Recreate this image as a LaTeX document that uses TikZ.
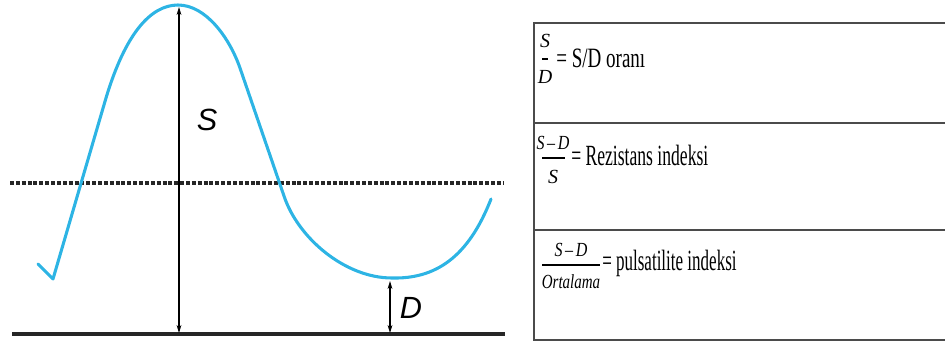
\documentclass[tikz,border=0pt]{standalone}
\usepackage{fontspec}
\usepackage{graphicx}
\setmainfont{Liberation Serif}
\setsansfont{Liberation Sans}
\usetikzlibrary{arrows.meta}
\definecolor{wave}{RGB}{45,180,228}
\definecolor{tabrule}{RGB}{75,75,75}
\tikzset{
  wavecurve/.style={draw=wave, line width=2.3pt, line join=round, line cap=round},
  dimarrow/.style={draw=black, line width=0.9pt, {Stealth[length=6pt,width=3.6pt]}-{Stealth[length=6pt,width=3.6pt]}},
  baseline rule/.style={draw=black!85, line width=3pt},
  dotline/.style={draw=black!85, line width=2.4pt, dash pattern=on 3pt off 1.4pt},
  graphlabel/.style={inner sep=0pt, font=\sffamily\itshape\fontsize{23}{27}\selectfont},
  tabline/.style={draw=tabrule, line width=1.5pt},
  fracpart/.style={inner sep=0pt, font=\itshape\fontsize{15}{18}\selectfont},
  fracbar/.style={draw=black, line width=1pt},
  rowtext/.style={inner sep=0pt, anchor=base west}
}
\begin{document}
\begin{tikzpicture}[x=0.75pt, y=-0.75pt]
\useasboundingbox (0,0) rectangle (945,343);
% ---------- graph ----------
\coordinate (bl) at (12,334);
\coordinate (br) at (505,334);
\draw[baseline rule] (bl) -- (br);
\coordinate (dl) at (10,183);
\coordinate (dr) at (503,183);
\draw[dotline] (dl) -- (dr);
\coordinate (stop) at (179,7);
\coordinate (sbot) at (179,333);
\draw[dimarrow] (stop) -- (sbot);
\coordinate (dtop) at (390,281);
\coordinate (dbot) at (390,333);
\draw[dimarrow] (dtop) -- (dbot);
\node[graphlabel] (Slab) at (207,120) {S};
\node[graphlabel] (Dlab) at (411,308) {D};
\draw[wavecurve] (38,264) -- (53,279) -- (106,98)
  .. controls (125,35) and (150,5) .. (178,5)
  .. controls (206,5) and (229.5,38) .. (240,68)
  -- (284,196)
  .. controls (298,238) and (345,278) .. (392,278)
  .. controls (435,279) and (468,258) .. (491,199);
% ---------- table ----------
\coordinate (t1l) at (534,23);
\coordinate (t1r) at (945,23);
\coordinate (t2l) at (534,123);
\coordinate (t2r) at (945,123);
\coordinate (t3l) at (534,230);
\coordinate (t3r) at (945,230);
\coordinate (t4l) at (534,340);
\coordinate (t4r) at (945,340);
\draw[tabline] (t1r) -- (t1l) -- (t4l) -- (t4r);
\draw[tabline] (t2l) -- (t2r);
\draw[tabline] (t3l) -- (t3r);
% row 1
\node[fracpart] (n1) at (545,41) {S};
\node[fracpart] (d1) at (545,77) {D};
\coordinate (b1l) at (542,59);
\coordinate (b1r) at (548,59);
\draw[fracbar] (b1l) -- (b1r);
\node[rowtext, font=\fontsize{21}{25}\selectfont] (r1) at (556,67) {\scalebox{0.68}[1]{= S/D oranı}};
% row 2
\node[fracpart] (n2) at (553,143) {\scalebox{0.8}[1]{S\,–\,D}};
\node[fracpart] (d2) at (553,177) {S};
\coordinate (b2l) at (542,158);
\coordinate (b2r) at (565,158);
\draw[fracbar] (b2l) -- (b2r);
\node[rowtext, font=\fontsize{22}{26}\selectfont] (r2) at (571,165) {\scalebox{0.60}[1]{= Rezistans indeksi}};
% row 3
\node[fracpart] (n3) at (571,250) {\scalebox{0.8}[1]{S\,–\,D}};
\node[fracpart] (d3) at (571,282) {\scalebox{0.75}[1]{Ortalama}};
\coordinate (b3l) at (542,265);
\coordinate (b3r) at (600,265);
\draw[fracbar] (b3l) -- (b3r);
\node[rowtext, font=\fontsize{22}{26}\selectfont] (r3) at (602,270) {\scalebox{0.58}[1]{= pulsatilite indeksi}};
\end{tikzpicture}
\end{document}
